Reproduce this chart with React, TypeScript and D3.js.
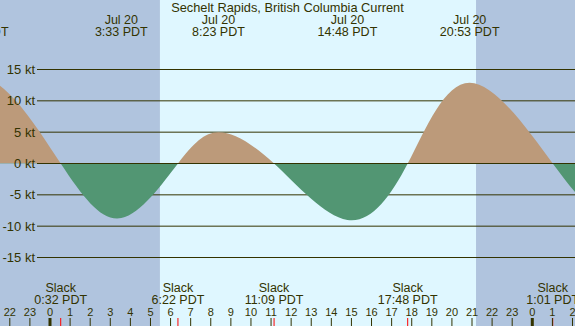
import React from "react";
import * as d3 from "d3";

// hours are measured from Jul 20 00:00 PDT
const peakHours = [-3.55, 3.55, 8.383, 14.8, 20.883, 28.3];
const peakSpeeds = [13.9, -8.7, 5.0, -9.0, 12.9, -9.0];
const peakDates = ["Jul 19", "Jul 20", "Jul 20", "Jul 20", "Jul 20", "Jul 21"];
const peakTimes = ["20:27 PDT", "3:33 PDT", "8:23 PDT", "14:48 PDT", "20:53 PDT", "4:18 PDT"];

const slackHours = [-7.6, 0.533, 6.367, 11.15, 17.8, 25.017, 31.6];
const slackTimes = ["16:24 PDT", "0:32 PDT", "6:22 PDT", "11:09 PDT", "17:48 PDT", "1:01 PDT", "7:36 PDT"];

const daylight = [5.47, 21.2];
const yTicks = [15, 10, 5, 0, -5, -10, -15];
const hourTicks = d3.range(-2, 27);

const W = 575;
const H = 326;

const App = () => {
  const x = d3.scaleLinear().domain([-2.488, 26.125]).range([0, W]);
  const y = d3.scaleLinear().domain([-15, 15]).range([257.5, 69.5]);

  const series = [
    ...peakHours.map((h, i) => ({ h, v: peakSpeeds[i] })),
    ...slackHours.map((h) => ({ h, v: 0 })),
  ].sort((a, b) => a.h - b.h);

  const area = d3
    .area<{ h: number; v: number }>()
    .x((d) => x(d.h))
    .y0(y(0))
    .y1((d) => y(d.v))
    .curve(d3.curveNatural);

  const ink = "#333300";
  const font = "'Liberation Sans', Arial, sans-serif";
  const onScreen = (h: number) => x(h) > -80 && x(h) < W + 80;

  return (
    <svg width={W} height={H} style={{ position: "absolute", left: 0, top: 0 }} fontFamily={font}>
      <defs>
        <clipPath id="above">
          <rect x={0} y={0} width={W} height={y(0)} />
        </clipPath>
        <clipPath id="below">
          <rect x={0} y={y(0)} width={W} height={H - y(0)} />
        </clipPath>
      </defs>
      <rect x={0} y={0} width={W} height={H} fill="#b0c4de" />
      <rect x={x(daylight[0])} y={0} width={x(daylight[1]) - x(daylight[0])} height={H} fill="#dff7ff" />

      {yTicks.map((t) => (
        <line key={t} x1={37} x2={W} y1={y(t)} y2={y(t)} stroke={ink} strokeWidth={1} />
      ))}

      <path d={area(series) || ""} fill="#bc9a7a" clipPath="url(#above)" />
      <path d={area(series) || ""} fill="#529673" clipPath="url(#below)" />
      <line x1={37} x2={W} y1={y(0)} y2={y(0)} stroke={ink} strokeWidth={1} />

      {yTicks.map((t) => (
        <text key={"l" + t} x={35} y={y(t) + 4.5} textAnchor="end" fontSize={13} fill={ink}>
          {t} kt
        </text>
      ))}

      <text x={W / 2} y={12} textAnchor="middle" fontSize={12.8} fill={ink}>
        Sechelt Rapids, British Columbia Current
      </text>

      {peakHours.map((h, i) =>
        onScreen(h) ? (
          <g key={"p" + i} fontSize={12.5} fill={ink} textAnchor="middle">
            <text x={x(h)} y={24}>{peakDates[i]}</text>
            <text x={x(h)} y={36}>{peakTimes[i]}</text>
          </g>
        ) : null
      )}

      {slackHours.map((h, i) =>
        onScreen(h) ? (
          <g key={"s" + i} fontSize={12.5} fill={ink} textAnchor="middle">
            <text x={x(h)} y={292}>Slack</text>
            <text x={x(h)} y={303.5}>{slackTimes[i]}</text>
            <line x1={x(h)} x2={x(h)} y1={318} y2={H} stroke="#ff0000" strokeWidth={1} />
          </g>
        ) : null
      )}

      {hourTicks.map((h) => {
        const hr = ((h % 24) + 24) % 24;
        return (
          <g key={"h" + h}>
            <text x={x(h)} y={316} textAnchor="middle" fontSize={11} fill={ink}>
              {hr}
            </text>
            <line x1={x(h)} x2={x(h)} y1={318} y2={H} stroke={ink} strokeWidth={hr === 0 ? 3 : 1} />
          </g>
        );
      })}
    </svg>
  );
};

export default App;
